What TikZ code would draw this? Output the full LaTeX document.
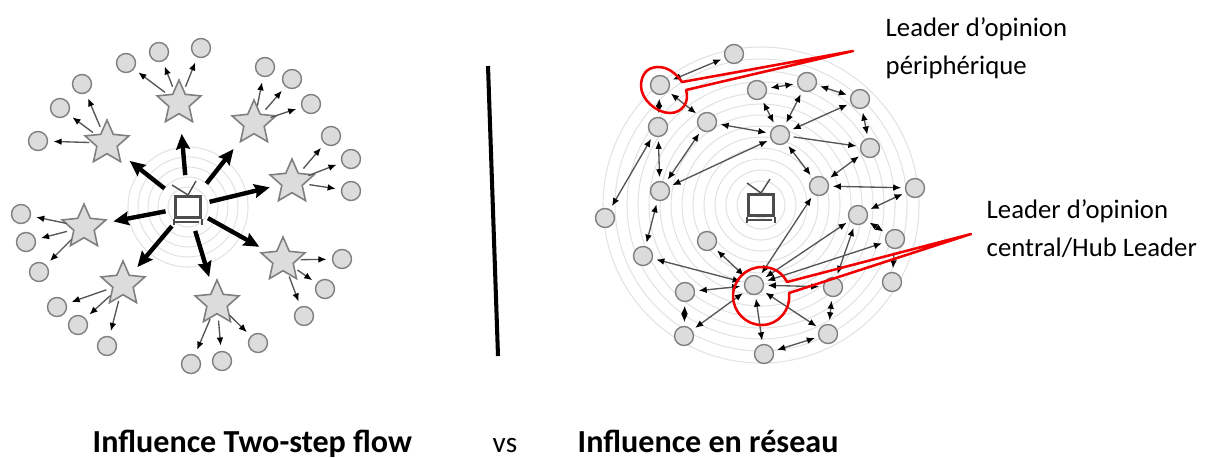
\documentclass[tikz,border=0pt]{standalone}
\usepackage{fontspec}
\usepackage{xcolor}
\setmainfont{Carlito}
\usetikzlibrary{shapes.geometric}
\usetikzlibrary{arrows.meta}

\definecolor{nodegray}{HTML}{DCDCDC}
\definecolor{rimgray}{HTML}{7F7F7F}
\definecolor{ringgray}{HTML}{E2E2E2}
\definecolor{linegray}{HTML}{555555}
\definecolor{calloutred}{HTML}{F00000}

\tikzset{
    tinytip/.tip = {Latex[length = 2.3pt, width = 1.9pt, black]},
    person/.style = {circle, draw = rimgray, fill = nodegray, line width = 0.4pt, minimum size = 0.19cm, inner sep = 0pt},
    leader/.style = {star, star points = 5, star point ratio = 2.15, draw = rimgray, fill = nodegray, line width = 0.45pt, minimum size = 0.46cm, inner sep = 0pt},
    ring/.style = {draw = ringgray, line width = 0.3pt},
    relay/.style = {-tinytip, draw = linegray, line width = 0.38pt, shorten > = 1.5pt, shorten < = 5pt},
    mutual/.style = {tinytip-tinytip, draw = linegray, line width = 0.38pt, shorten > = 1pt, shorten < = 1pt},
    oneway/.style = {-tinytip, draw = linegray, line width = 0.38pt, shorten > = 1pt, shorten < = 1pt},
    media/.style = {-{Stealth[length = 4.4pt, width = 3.9pt, inset = 0.6pt]}, draw = black, line width = 1.25pt},
    tvbox/.style = {rectangle, draw = black!70, fill = white, line width = 0.85pt, minimum width = 0.25cm, minimum height = 0.21cm, inner sep = 0pt},
    callout/.style = {draw = calloutred, line width = 0.72pt, line join = round},
    caption/.style = {font = \fontsize{9.13}{11}\selectfont\bfseries, anchor = base west, inner sep = 0pt},
    note/.style = {font = \fontsize{7.6}{10.8}\selectfont, align = left, anchor = north west, inner sep = 0pt}
}

\begin{document}
\begin{tikzpicture}[x = 0.01cm, y = -0.01cm]
        \useasboundingbox (0, 0) rectangle (1213, 457);

        % left picture
        \coordinate (hubL) at (188, 207);
        \draw[ring] (hubL) circle (10) circle (20) circle (30) circle (40) circle (50) circle (60);

        \node[tvbox] (tvL) at (188, 207) {};
        \draw[black!70, line width = 0.4pt] (172, 185) -- (tvL.north) (196, 181) -- (tvL.north);
        \draw[black!70, line width = 0.6pt] (tvL.south west) -- ++(0, 6) (tvL.south east) -- ++(0, 6) (tvL.south west) ++(0, 3) -- ++(25, 0);

        \node[leader] (starA) at (179, 103) {};
        \node[leader] (starB) at (254, 123) {};
        \node[leader] (starC) at (292, 182) {};
        \node[leader] (starD) at (283, 260) {};
        \node[leader] (starE) at (217, 303) {};
        \node[leader] (starF) at (123, 284) {};
        \node[leader] (starG) at (84, 227) {};
        \node[leader] (starH) at (107, 143) {};

        \draw[media, shorten < = 9.1pt, shorten > = 8.8pt] (tvL.center) -- (starA.center);
        \draw[media, shorten < = 8.5pt, shorten > = 9.4pt] (tvL.center) -- (starB.center);
        \draw[media, shorten < = 6.3pt, shorten > = 6.5pt] (tvL.center) -- (starC.center);
        \draw[media, shorten < = 6.5pt, shorten > = 7.7pt] (tvL.center) -- (starD.center);
        \draw[media, shorten < = 7.1pt, shorten > = 7.7pt] (tvL.center) -- (starE.center);
        \draw[media, shorten < = 7.1pt, shorten > = 6.3pt] (tvL.center) -- (starF.center);
        \draw[media, shorten < = 6.5pt, shorten > = 8.5pt] (tvL.center) -- (starG.center);
        \draw[media, shorten < = 8.5pt, shorten > = 8.2pt] (tvL.center) -- (starH.center);

        \node[person] (a1) at (126, 63) {};
        \node[person] (a2) at (159, 52) {};
        \node[person] (a3) at (201, 48) {};
        \node[person] (b1) at (265, 67) {};
        \node[person] (b2) at (292, 79) {};
        \node[person] (b3) at (311, 104) {};
        \node[person] (c1) at (331, 136) {};
        \node[person] (c2) at (351, 159) {};
        \node[person] (c3) at (351, 191) {};
        \node[person] (d1) at (342, 259) {};
        \node[person] (d2) at (325, 289) {};
        \node[person] (d3) at (304, 316) {};
        \node[person] (e1) at (258, 343) {};
        \node[person] (e2) at (222, 361) {};
        \node[person] (e3) at (191, 364) {};
        \node[person] (f1) at (57, 307) {};
        \node[person] (f2) at (78, 325) {};
        \node[person] (f3) at (107, 346) {};
        \node[person] (g1) at (21, 214) {};
        \node[person] (g2) at (26, 242) {};
        \node[person] (g3) at (39, 272) {};
        \node[person] (h1) at (38, 141) {};
        \node[person] (h2) at (60, 108) {};
        \node[person] (h3) at (82, 84) {};

        \draw[relay] (starA.center) -- (a1);
        \draw[relay] (starA.center) -- (a2);
        \draw[relay] (starA.center) -- (a3);
        \draw[relay] (starB.center) -- (b1);
        \draw[relay] (starB.center) -- (b2);
        \draw[relay] (starB.center) -- (b3);
        \draw[relay] (starC.center) -- (c1);
        \draw[relay] (starC.center) -- (c2);
        \draw[relay] (starC.center) -- (c3);
        \draw[relay] (starD.center) -- (d1);
        \draw[relay] (starD.center) -- (d2);
        \draw[relay] (starD.center) -- (d3);
        \draw[relay] (starE.center) -- (e1);
        \draw[relay] (starE.center) -- (e2);
        \draw[relay] (starE.center) -- (e3);
        \draw[relay] (starF.center) -- (f1);
        \draw[relay] (starF.center) -- (f2);
        \draw[relay] (starF.center) -- (f3);
        \draw[relay] (starG.center) -- (g1);
        \draw[relay] (starG.center) -- (g2);
        \draw[relay] (starG.center) -- (g3);
        \draw[relay] (starH.center) -- (h1);
        \draw[relay] (starH.center) -- (h2);
        \draw[relay] (starH.center) -- (h3);

        % separator
        \coordinate (sepTop) at (488, 66);
        \coordinate (sepBottom) at (498, 356);
        \draw[black, line width = 1.15pt] (sepTop) -- (sepBottom);

        % right picture
        \coordinate (hubR) at (761, 205);
        \draw[ring] (hubR) circle (13) circle (24) circle (35) circle (46) circle (57) circle (68) circle (79)
            circle (90) circle (101) circle (112) circle (123) circle (134) circle (146) circle (158);

        \node[tvbox] (tvR) at (761, 205) {};
        \draw[black!70, line width = 0.4pt] (747, 183) -- (tvR.north) (770, 179) -- (tvR.north);
        \draw[black!70, line width = 0.6pt] (tvR.south west) -- ++(0, 6) (tvR.south east) -- ++(0, 6) (tvR.south west) ++(0, 3) -- ++(25, 0);

        \node[person] (top) at (734, 54) {};
        \node[person] (per) at (660, 85) {};
        \node[person] (n1) at (658, 127) {};
        \node[person] (n2) at (707, 122) {};
        \node[person] (n3) at (660, 191) {};
        \node[person] (n4) at (757, 90) {};
        \node[person] (n5) at (807, 82) {};
        \node[person] (n6) at (860, 99) {};
        \node[person] (n7) at (780, 135) {};
        \node[person] (n8) at (870, 148) {};
        \node[person] (n9) at (819, 186) {};
        \node[person] (n10) at (915, 188) {};
        \node[person] (n11) at (605, 218) {};
        \node[person] (n12) at (643, 256) {};
        \node[person] (n13) at (707, 241) {};
        \node[person] (n14) at (858, 215) {};
        \node[person] (n15) at (895, 239) {};
        \node[person] (n16) at (892, 282) {};
        \node[person] (cen) at (754, 285) {};
        \node[person] (n17) at (685, 292) {};
        \node[person] (n18) at (684, 336) {};
        \node[person] (n19) at (833, 287) {};
        \node[person] (n20) at (828, 334) {};
        \node[person] (n21) at (764, 354) {};

        \draw[mutual] (per) -- (top);
        \draw[mutual] (per) -- (n1);
        \draw[mutual] (per) -- (n2);
        \draw[mutual] (n1) -- (n3);
        \draw[mutual] (n1) -- (n11);
        \draw[mutual] (n2) -- (n3);
        \draw[mutual] (n2) -- (n7);
        \draw[mutual] (n3) -- (n7);
        \draw[mutual] (n3) -- (n12);
        \draw[mutual] (n4) -- (n5);
        \draw[mutual] (n4) -- (n7);
        \draw[mutual] (n5) -- (n7);
        \draw[mutual] (n5) -- (n6);
        \draw[mutual] (n6) -- (n7);
        \draw[mutual] (n6) -- (n8);
        \draw[oneway] (n7) -- (n8);
        \draw[mutual] (n7) -- (n9);
        \draw[mutual] (n8) -- (n9);
        \draw[mutual] (n9) -- (n10);
        \draw[mutual] (n10) -- (n14);
        \draw[mutual] (n14) -- (n15);
        \draw[oneway] (n15) -- (n16);
        \draw[mutual] (n14) -- (n19);
        \draw[mutual] (n19) -- (n20);
        \draw[mutual] (n20) -- (n21);
        \draw[mutual] (n17) -- (n18);

        \draw[mutual] (cen) -- (n12);
        \draw[mutual] (cen) -- (n13);
        \draw[mutual] (cen) -- (n9);
        \draw[mutual] (cen) -- (n14);
        \draw[mutual] (cen) -- (n15);
        \draw[mutual] (cen) -- (n17);
        \draw[mutual] (cen) -- (n18);
        \draw[mutual] (cen) -- (n19);
        \draw[mutual] (cen) -- (n20);
        \draw[mutual] (cen) -- (n21);

        % red callouts
        \coordinate (tipA) at (853, 51);
        \coordinate (tipB) at (971, 234);
        \draw[callout] (tipA) -- (682, 82) .. controls (675, 72) and (667, 67) .. (658, 67)
            .. controls (646, 67) and (641, 76) .. (641, 86) .. controls (641, 99) and (656, 113) .. (670, 113)
            .. controls (682, 113) and (690, 102) .. (686, 90) -- cycle;
        \draw[callout] (tipB) -- (787, 282) .. controls (782, 272) and (773, 267) .. (762, 267)
            .. controls (746, 267) and (733, 280) .. (733, 296) .. controls (733, 312) and (746, 325) .. (762, 325)
            .. controls (778, 325) and (791, 310) .. (789, 293) -- cycle;

        % texts
        \node[note] (noteA) at (885, 17) {Leader d’opinion\\périphérique};
        \node[note] (noteB) at (986, 199) {Leader d’opinion\\central/Hub Leader};
        \node[caption] (capA) at (92, 452) {Influence Two-step flow};
        \node[caption, font = \fontsize{8.3}{10}\selectfont] (capVs) at (492, 452) {vs};
        \node[caption] (capB) at (577, 452) {Influence en réseau};
\end{tikzpicture}
\end{document}
